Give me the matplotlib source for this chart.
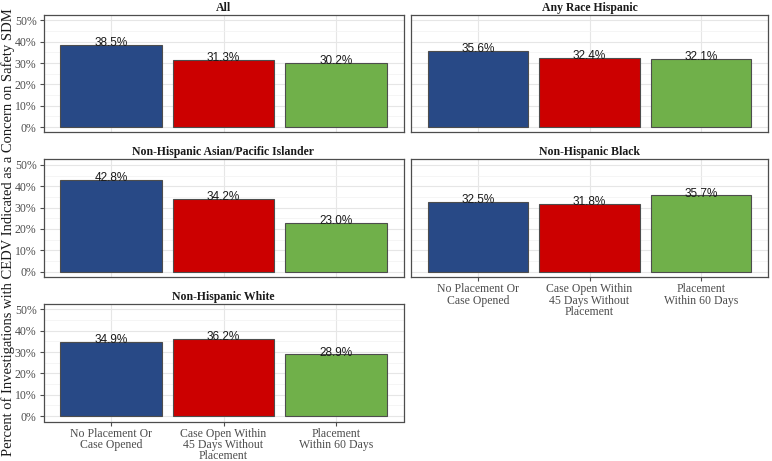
import numpy as np
import matplotlib.pyplot as plt
from matplotlib.ticker import MultipleLocator, FuncFormatter

categories = ["No Placement Or\nCase Opened", "Case Open Within\n45 Days Without\nPlacement", "Placement\nWithin 60 Days"]
panels = ["All", "Any Race Hispanic", "Non-Hispanic Asian/Pacific Islander", "Non-Hispanic Black", "Non-Hispanic White"]
all_vals = [38.5, 31.3, 30.2]
hispanic_vals = [35.6, 32.4, 32.1]
asian_vals = [42.8, 34.2, 23.0]
black_vals = [32.5, 31.8, 35.7]
white_vals = [34.9, 36.2, 28.9]
values = [all_vals, hispanic_vals, asian_vals, black_vals, white_vals]
colors = ["#284986", "#CC0000", "#70B04A"]

W, H = 772, 461
fig = plt.figure(figsize=(W / 100, H / 100), dpi=100)
serif = "Liberation Serif"

# panel boxes in pixels: left, right, top, bottom
lefts = [43.5, 411]
rights = [403.5, 768]
tops = [15, 159.5, 304]
ph = 117.5

show_x = [False, False, False, True, True]
show_y = [True, False, True, False, True]

for i, (name, vals) in enumerate(zip(panels, values)):
    r, c = divmod(i, 2)
    l, rt, t = lefts[c], rights[c], tops[r]
    ax = fig.add_axes([l / W, 1 - (t + ph) / H, (rt - l) / W, ph / H])
    x = np.arange(3)
    ax.bar(x, [v / 100 for v in vals], width=0.9, color=colors, edgecolor="#4d4d4d", linewidth=0.8, zorder=3)
    for xi, v in zip(x, vals):
        ax.annotate(f"{v:.1f}%", (xi, v / 100), xytext=(0, -3), textcoords="offset points",
                    ha="center", va="bottom", fontsize=8.5, family="Liberation Sans", color="#1a1a1a", zorder=4)
    ax.set_xlim(-0.6, 2.6)
    ax.set_ylim(-0.025, 0.525)
    ax.yaxis.set_major_locator(MultipleLocator(0.1))
    ax.yaxis.set_minor_locator(MultipleLocator(0.05))
    ax.yaxis.set_major_formatter(FuncFormatter(lambda y, p: f"{y * 100:.0f}%"))
    ax.set_xticks(x)
    ax.grid(which="major", color="#e6e6e6", linewidth=0.8, zorder=0)
    ax.grid(which="minor", axis="y", color="#f2f2f2", linewidth=0.5, zorder=0)
    for s in ax.spines.values():
        s.set_color("#4d4d4d")
        s.set_linewidth(0.9)
    ax.tick_params(axis="both", which="major", length=3, color="#4d4d4d", labelcolor="#4d4d4d", labelsize=8.5, pad=2)
    ax.tick_params(axis="y", which="minor", length=0)
    for lab in ax.get_yticklabels():
        lab.set_family(serif)
    if show_x[i]:
        ax.set_xticklabels(categories, family=serif, fontsize=8.5, linespacing=0.92)
        ax.tick_params(axis="x", pad=1.5)
    else:
        ax.set_xticklabels([])
        ax.tick_params(axis="x", length=0)
    if not show_y[i]:
        ax.set_yticklabels([])
        ax.tick_params(axis="y", length=0)
    ax.set_title(name, family=serif, fontweight="bold", fontsize=8.5, color="#1a1a1a", pad=3)

fig.text(8 / W, 1 - 232 / H, "Percent of Investigations with CEDV Indicated as a Concern on Safety SDM",
         rotation=90, va="center", ha="center", family=serif, fontsize=10.5, color="#1a1a1a")

fig.savefig("out.png", dpi=100)
